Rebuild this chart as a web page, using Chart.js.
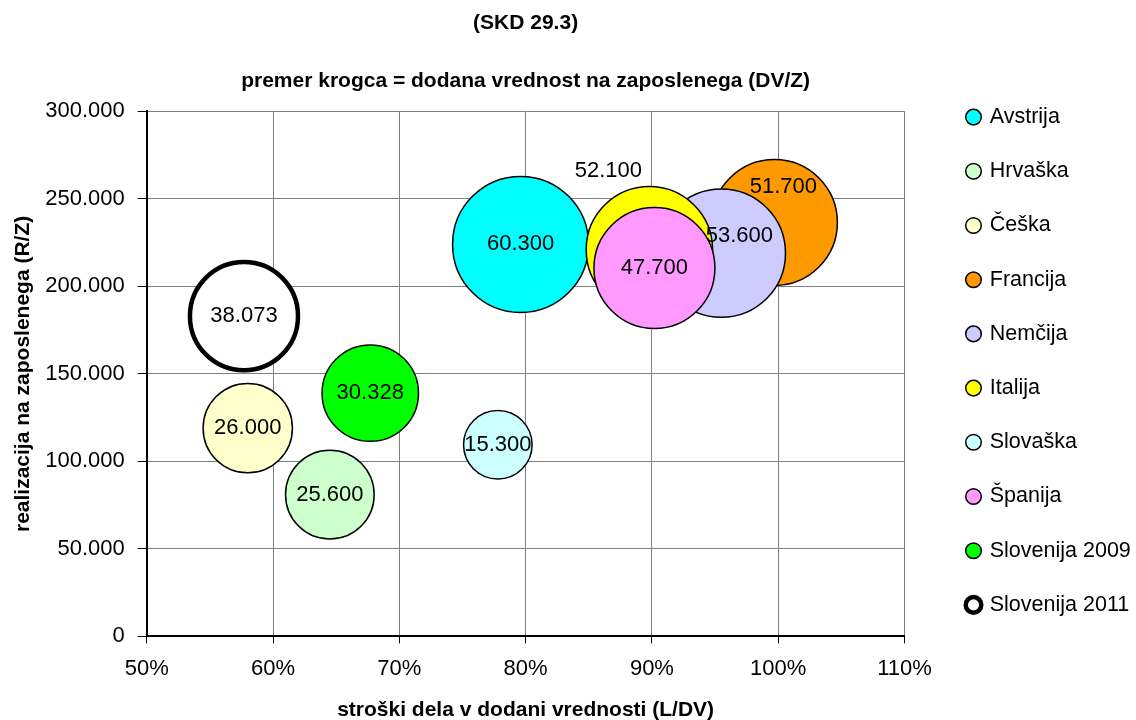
<!DOCTYPE html>
<html>
<head>
<meta charset="utf-8">
<script src="https://cdn.jsdelivr.net/npm/chart.js@4.4.0/dist/chart.umd.min.js"></script>
<style>
  html, body { margin: 0; padding: 0; background: #fff; }
  #wrap { width: 1136px; height: 720px; }
</style>
</head>
<body>
<div id="wrap"><canvas id="chart" width="1136" height="720"></canvas></div>
<script>
// data
const countries = ['Avstrija', 'Hrvaška', 'Češka', 'Francija', 'Nemčija', 'Italija', 'Slovaška', 'Španija', 'Slovenija 2009', 'Slovenija 2011'];
const laborCostShare = [79.6, 64.5, 58.0, 99.7, 95.5, 89.8, 77.8, 90.2, 67.7, 57.7];          // L/DV in %
const revenuePerEmployee = [224000, 81000, 119000, 236500, 219000, 221000, 109500, 210500, 139000, 183000]; // R/Z
const valueAddedPerEmployee = [60300, 25600, 26000, 51700, 53600, 52100, 15300, 47700, 30328, 38073];      // DV/Z

const fills = ['#00ffff', '#ccffcc', '#ffffcc', '#ff9900', '#ccccff', '#ffff00', '#ccffff', '#ff99ff', '#00ff00', '#ffffff'];

const FONT = "'Liberation Sans', Arial, sans-serif";
Chart.defaults.font.family = FONT;
Chart.defaults.color = '#000';

function dotThousands(v) {
    return String(Math.round(v)).replace(/\B(?=(\d{3})+(?!\d))/g, '.');
}

// bubble area proportional to DV/Z
const radiusFor = (dv) => Math.sqrt(dv) * 0.2769;

const datasets = countries.map((name, i) => ({
    label: name,
    data: [{ x: laborCostShare[i], y: revenuePerEmployee[i], r: radiusFor(valueAddedPerEmployee[i]) }],
    backgroundColor: fills[i],
    borderColor: '#000',
    borderWidth: name === 'Slovenija 2011' ? 4.5 : 1.5,
    order: countries.length - i
}));

// a few labels were moved by hand in the original
const labelOffsets = { 'Italija': [-41, -79], 'Nemčija': [18, -17], 'Francija': [9, -36] };

const bubbleLabels = {
    id: 'bubbleLabels',
    afterDatasetsDraw(chart) {
        const ctx = chart.ctx;
        ctx.save();
        ctx.font = '22px ' + FONT;
        ctx.fillStyle = '#000';
        ctx.textAlign = 'center';
        ctx.textBaseline = 'middle';
        chart.data.datasets.forEach((ds, i) => {
            const pt = chart.getDatasetMeta(i).data[0];
            const off = labelOffsets[ds.label] || [0, 0];
            ctx.fillText(dotThousands(valueAddedPerEmployee[i]), pt.x + off[0], pt.y + off[1]);
        });
        ctx.restore();
    }
};

// push the legend column over to the right edge
const legendNudge = {
    id: 'legendNudge',
    afterLayout(chart) {
        const lg = chart.legend;
        const dx = 968 - (lg.left + lg.options.labels.padding);
        lg.left += dx;
        lg.right += dx;
        lg.top += 1;
        lg.bottom += 1;
    }
};

new Chart(document.getElementById('chart'), {
    type: 'bubble',
    data: { datasets: datasets },
    options: {
        responsive: false,
        animation: false,
        devicePixelRatio: 1,
        layout: { padding: { top: 0, left: 0, bottom: 0, right: 26 } },
        plugins: {
            title: {
                display: true,
                fullSize: false,
                text: '(SKD 29.3)',
                font: { size: 21, weight: 'bold' },
                padding: { top: 11, bottom: 20 }
            },
            subtitle: {
                display: true,
                fullSize: false,
                text: 'premer krogca = dodana vrednost na zaposlenega (DV/Z)',
                color: '#000',
                font: { size: 21, weight: 'bold' },
                padding: { top: 12, bottom: 18 }
            },
            legend: {
                position: 'right',
                align: 'center',
                reverse: true,
                labels: {
                    usePointStyle: true,
                    pointStyle: 'circle',
                    boxWidth: 11,
                    boxHeight: 11,
                    padding: 32.7,
                    font: { size: 21.5 },
                    color: '#000'
                }
            },
            tooltip: { enabled: false }
        },
        scales: {
            x: {
                type: 'linear',
                min: 50,
                max: 110,
                ticks: {
                    stepSize: 10,
                    padding: 12,
                    font: { size: 22, lineHeight: 1.2 },
                    callback: (v) => v + '%'
                },
                grid: { color: '#808080', lineWidth: 1, tickLength: 7, tickColor: '#000' },
                border: { color: '#000', width: 2 },
                title: {
                    display: true,
                    text: 'stroški dela v dodani vrednosti (L/DV)',
                    font: { size: 21, weight: 'bold', lineHeight: 1.2 },
                    padding: { top: 4, bottom: -3 }
                }
            },
            y: {
                type: 'linear',
                min: 0,
                max: 300000,
                ticks: {
                    stepSize: 50000,
                    padding: 13,
                    font: { size: 22, lineHeight: 1.2 },
                    callback: (v) => dotThousands(v)
                },
                grid: { color: '#808080', lineWidth: 1, tickLength: 9, tickColor: '#000' },
                border: { color: '#000', width: 2 },
                title: {
                    display: true,
                    text: 'realizacija na zaposlenega (R/Z)',
                    font: { size: 21, weight: 'bold', lineHeight: 1.2 },
                    padding: { top: 11, bottom: -4 }
                }
            }
        }
    },
    plugins: [bubbleLabels, legendNudge]
});
</script>
</body>
</html>
